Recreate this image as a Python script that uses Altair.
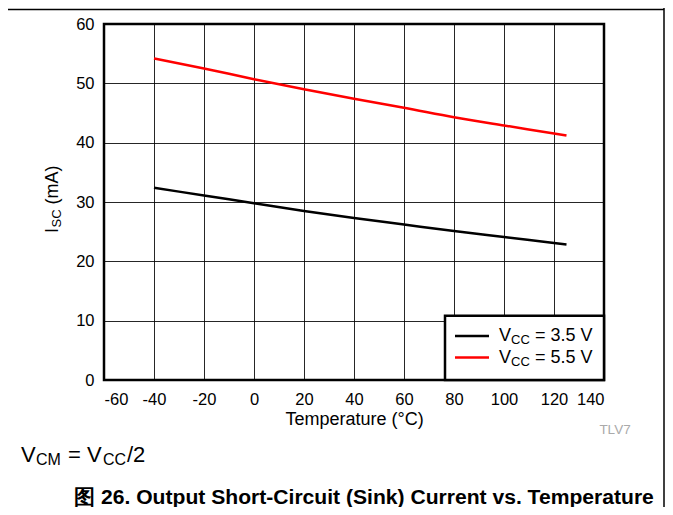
import altair as alt
import pandas as pd

temps = [-40, -20, 0, 20, 40, 60, 80, 100, 120, 125]
isc_35 = [32.4, 31.1, 29.8, 28.5, 27.3, 26.2, 25.1, 24.1, 23.1, 22.85]
isc_55 = [54.2, 52.5, 50.7, 49.0, 47.4, 45.9, 44.3, 42.9, 41.55, 41.2]
series_names = ["VCC = 3.5 V", "VCC = 5.5 V"]
series_colors = ["#000000", "#ff0000"]
x_ticks = [-60, -40, -20, 0, 20, 40, 60, 80, 100, 120, 140]
y_ticks = [0, 10, 20, 30, 40, 50, 60]

rows = []
for t, v in zip(temps, isc_35):
    rows.append({"T": t, "I": v, "s": series_names[0]})
for t, v in zip(temps, isc_55):
    rows.append({"T": t, "I": v, "s": series_names[1]})
df = pd.DataFrame(rows)

FONT = "Liberation Sans"
W, H = 500, 356
OX, OY = 104, 24  # plot origin on screen

def sx(v):
    return v - OX

def sy(v):
    return v - OY

base = alt.Chart(df)

lines = base.mark_line(strokeWidth=2.5, clip=False, interpolate="monotone").encode(
    x=alt.X("T:Q", scale=alt.Scale(domain=[-60, 140], nice=False),
            axis=alt.Axis(values=x_ticks, title="Temperature (°C)", grid=True,
                          tickSize=0, labelPadding=11, titlePadding=3,
                          domain=False, labelExpr="datum.value + ''")),
    y=alt.Y("I:Q", scale=alt.Scale(domain=[0, 60], nice=False),
            axis=alt.Axis(values=y_ticks, title=None, grid=True,
                          tickSize=0, labelPadding=10, domain=False,
                          labelExpr="datum.value + ''")),
    color=alt.Color("s:N", scale=alt.Scale(domain=series_names, range=series_colors),
                    legend=None),
)

one = pd.DataFrame({"a": [0]})

def txt(text, x, y, size, align="left", baseline="middle", weight="normal",
        color="#000", angle=0):
    kw = dict(text=text, font=FONT, fontSize=size, align=align,
              baseline=baseline, fontWeight=weight, color=color)
    if angle:
        kw["angle"] = angle
    return alt.Chart(one).mark_text(**kw).encode(x=alt.value(x), y=alt.value(y))

# frame lines of the page
top_rule = alt.Chart(one).mark_rule(color="#000", strokeWidth=1.5).encode(
    x=alt.value(sx(8)), x2=alt.value(sx(664)), y=alt.value(sy(9.5)))
right_rule = alt.Chart(one).mark_rule(color="#000", strokeWidth=1.5).encode(
    x=alt.value(sx(664)), y=alt.value(sy(8)), y2=alt.value(sy(507)))

# legend box
leg_box = alt.Chart(one).mark_rect(fill="white", stroke="#000", strokeWidth=2.5).encode(
    x=alt.value(sx(445)), x2=alt.value(W), y=alt.value(sy(315.7)), y2=alt.value(H))

legend_layers = []
row_y = [336, 357.5]
for i, name in enumerate(series_names):
    yy = sy(row_y[i])
    legend_layers.append(
        alt.Chart(one).mark_rule(color=series_colors[i], strokeWidth=2.5).encode(
            x=alt.value(sx(455)), x2=alt.value(sx(489)), y=alt.value(yy)))
    val = name.split("= ")[1]
    x0 = sx(499)
    legend_layers.append(txt("V", x0, yy, 18))
    legend_layers.append(txt("CC", x0 + 12, yy + 4, 13))
    legend_layers.append(txt("= " + val, x0 + 12 + 19 + 5, yy, 18))

# y axis title with subscript (rotated)
yt_x = 53 - OX
yt = [
    txt("I", yt_x, sy(233), 18, angle=270),
    txt("SC", yt_x + 4, sy(233) - 5.5, 13, angle=270),
    txt("(mA)", yt_x, sy(233) - 5.5 - 18 - 5, 18, angle=270),
]

# note and caption
nx = sx(21)
ny = sy(455)
note = [
    txt("V", nx, ny, 22),
    txt("CM", nx + 15, ny + 5, 16),
    txt("= V", nx + 15 + 25 + 7, ny, 22),
    txt("CC", nx + 15 + 25 + 7 + 35, ny + 5, 16),
    txt("/2", nx + 15 + 25 + 7 + 35 + 24, ny, 22),
]
tag = txt("TLV7", sx(615), sy(430), 13.5, align="center", color="#aaaaaa")
caption = txt("图 26. Output Short-Circuit (Sink) Current vs. Temperature",
              sx(364), sy(498), 21.1, align="center", weight="bold")

chart = alt.layer(
    lines, leg_box, *legend_layers, *yt, *note, tag, caption, top_rule, right_rule
).properties(
    width=W, height=H,
    background="white",
    autosize=alt.AutoSizeParams(type="none"),
    padding={"left": OX - 8, "top": OY - 8, "right": 657 - (OX - 8) - W,
             "bottom": 499 - (OY - 8) - H},
).configure_view(
    stroke="#000", strokeWidth=2.5
).configure_axis(
    labelFont=FONT, labelFontSize=16.5, labelColor="#000",
    titleFont=FONT, titleFontSize=18, titleFontWeight="normal", titleColor="#000",
    gridColor="#000", gridWidth=1, gridOpacity=0.85,
)

chart.save("out.html", embed_options={"renderer": "svg", "actions": False})
